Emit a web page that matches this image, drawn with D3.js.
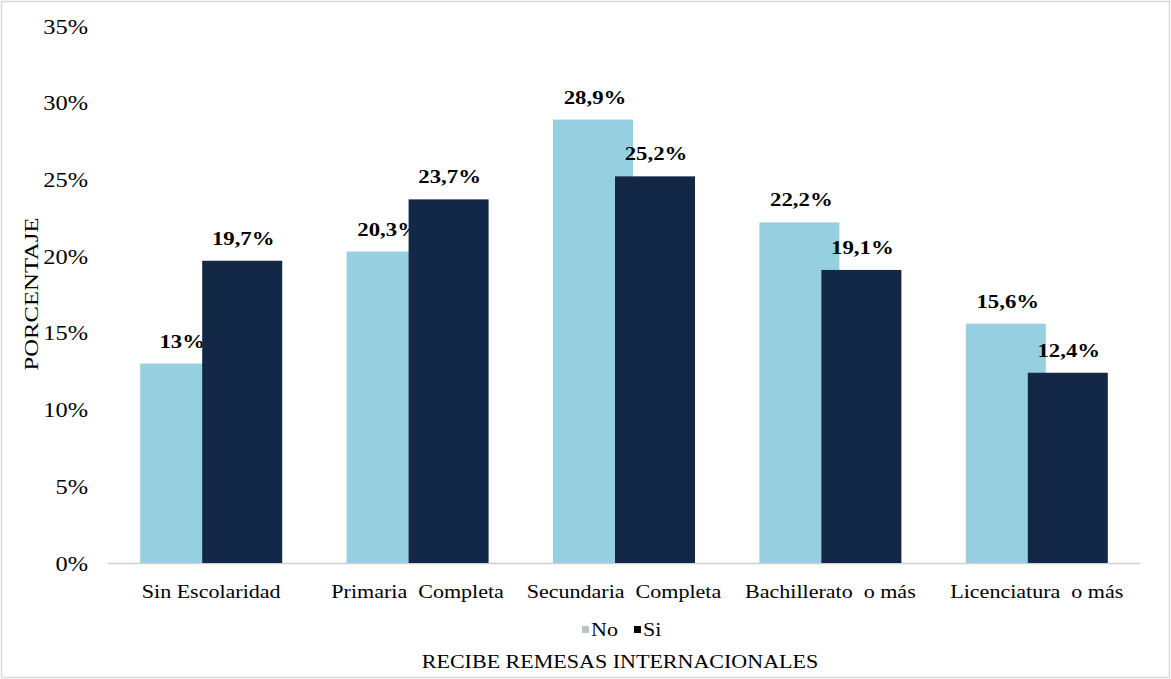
<!DOCTYPE html>
<html>
<head>
<meta charset="utf-8">
<script src="https://cdn.jsdelivr.net/npm/d3@7"></script>
<style>
  html, body { margin: 0; padding: 0; background: #fff; }
  svg text { font-family: "Liberation Serif", "Times New Roman", serif; }
</style>
</head>
<body>
<svg id="chart" width="1171" height="679"></svg>
<script>
// Education levels and share (%) by remittance status
const categories = ["Sin Escolaridad", "Primaria  Completa", "Secundaria  Completa", "Bachillerato  o más", "Licenciatura  o más"];
const seriesNames = ["No", "Si"];
const valuesNo = [13, 20.3, 28.9, 22.2, 15.6];
const valuesSi = [19.7, 23.7, 25.2, 19.1, 12.4];
const labelsNo = ["13%", "20,3%", "28,9%", "22,2%", "15,6%"];
const labelsSi = ["19,7%", "23,7%", "25,2%", "19,1%", "12,4%"];
const yTicks = [0, 5, 10, 15, 20, 25, 30, 35];

const colors = { No: "#96cfdf", Si: "#132747" };
const SX = 1.16; // horizontal widening of the serif glyphs

const svg = d3.select("#chart");
const W = 1171, H = 679;

// place a horizontally widened text at (x, y)
function addText(parent, x, y, str, opts) {
  const g = parent.append("g").attr("transform", `translate(${x},${y})`);
  g.append("text").attr("transform", `scale(${opts.sx || SX},1)`)
    .attr("text-anchor", opts.anchor || "middle")
    .attr("font-size", opts.size || 20)
    .attr("font-weight", opts.weight || "normal")
    .attr("fill", "#000")
    .style("white-space", "pre")
    .text(str);
  return g;
}

// outer frame
svg.append("rect").attr("x", 1.5).attr("y", 1.5).attr("width", W - 3).attr("height", H - 3)
  .attr("fill", "#fff").attr("stroke", "#d9d9d9").attr("stroke-width", 1.5);

const plot = { left: 108, right: 1140, top: 26, bottom: 563 };

const x = d3.scaleBand().domain(categories).range([plot.left, plot.right]).paddingInner(0).paddingOuter(0);
const y = d3.scaleLinear().domain([0, 35]).range([plot.bottom, plot.top]);

const barW = 80, offset = 31;

// y-axis tick labels
const yAxis = d3.axisLeft(y).tickValues(yTicks).tickFormat(d => d + "%").tickSize(0).tickPadding(0);
const gy = svg.append("g").attr("transform", `translate(88,0)`).call(yAxis);
gy.select(".domain").remove();
gy.selectAll("text").attr("font-size", 20).attr("fill", "#000").attr("dy", "0.35em")
  .attr("transform", `scale(${SX + 0.06},1)`);

// baseline
svg.append("line").attr("x1", plot.left).attr("x2", plot.right)
  .attr("y1", y(0) + 0.5).attr("y2", y(0) + 0.5)
  .attr("stroke", "#d0d0d0").attr("stroke-width", 1.5);

const center = c => x(c) + x.bandwidth() / 2;

// "No" bars and their labels (the overlapping "Si" bars are drawn on top)
categories.forEach((c, i) => {
  svg.append("rect").attr("x", center(c) - offset - barW / 2).attr("y", y(valuesNo[i]))
    .attr("width", barW).attr("height", y(0) - y(valuesNo[i])).attr("fill", colors.No);
});
categories.forEach((c, i) => {
  addText(svg, center(c) - offset + 2, y(valuesNo[i]) - 16, labelsNo[i], { size: 19, weight: "bold", sx: 1.2 });
});

// "Si" bars and labels
categories.forEach((c, i) => {
  svg.append("rect").attr("x", center(c) + offset - barW / 2).attr("y", y(valuesSi[i]))
    .attr("width", barW).attr("height", y(0) - y(valuesSi[i])).attr("fill", colors.Si);
});
categories.forEach((c, i) => {
  addText(svg, center(c) + offset + 1, y(valuesSi[i]) - 16, labelsSi[i], { size: 19, weight: "bold", sx: 1.2 });
});

// category axis labels
const xAxis = d3.axisBottom(x).tickSize(0).tickPadding(0);
const gx = svg.append("g").attr("transform", `translate(0,${plot.bottom + 35})`).call(xAxis);
gx.select(".domain").remove();
gx.selectAll("text").attr("font-size", 19).attr("fill", "#000").attr("dy", 0)
  .attr("transform", `scale(${SX},1)`)
  .style("white-space", "pre");

// y-axis title
svg.append("g").attr("transform", `translate(38,294) rotate(-90)`)
  .append("text").attr("transform", `scale(1.3,1)`)
  .attr("text-anchor", "middle").attr("font-size", 19).attr("fill", "#000").text("PORCENTAJE");

// legend
const legend = svg.append("g").attr("transform", "translate(582,636)");
legend.append("rect").attr("x", 0).attr("y", -10).attr("width", 7).attr("height", 7).attr("fill", "#b8c4c8");
legend.append("g").attr("transform", "translate(9,0)").append("text")
  .attr("transform", `scale(${SX},1)`).attr("font-size", 19).text(seriesNames[0]);
legend.append("rect").attr("x", 52).attr("y", -10).attr("width", 7).attr("height", 7).attr("fill", "#000");
legend.append("g").attr("transform", "translate(61,0)").append("text")
  .attr("transform", `scale(${SX},1)`).attr("font-size", 19).text(seriesNames[1]);

// x-axis title
addText(svg, 620, 668, "RECIBE REMESAS INTERNACIONALES", { size: 19 });
</script>
</body>
</html>
